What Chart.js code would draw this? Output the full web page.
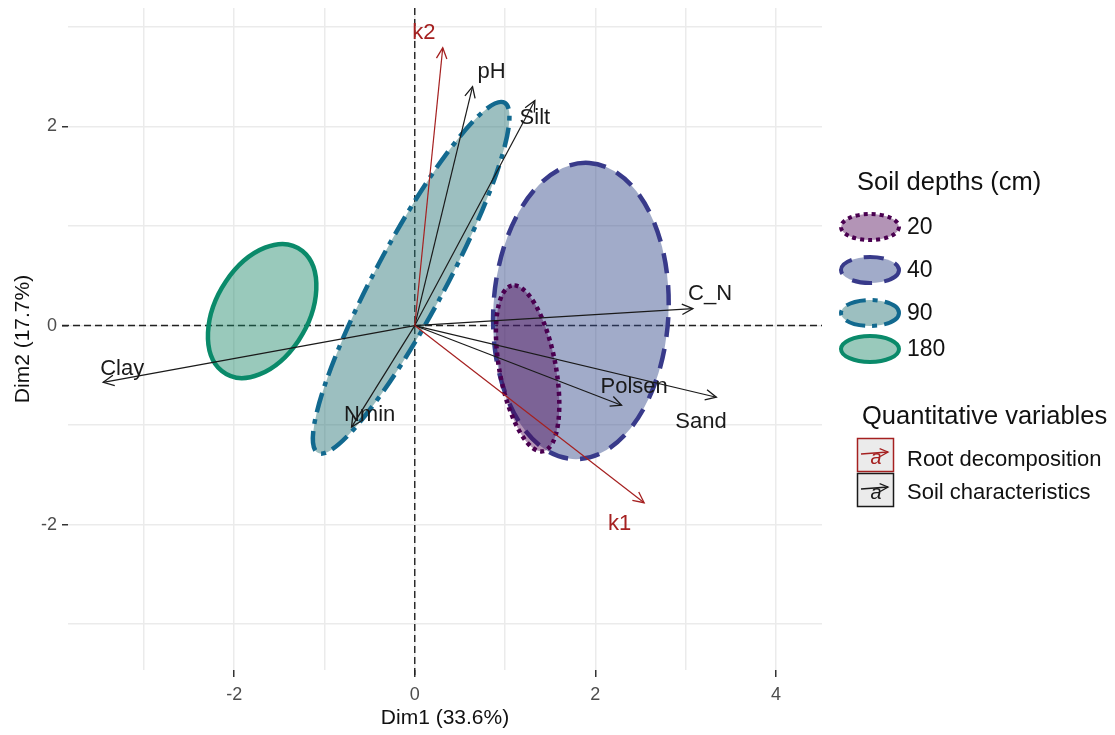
<!DOCTYPE html>
<html>
<head>
<meta charset="utf-8">
<script src="https://cdn.jsdelivr.net/npm/chart.js@4.4.1/dist/chart.umd.min.js"></script>
<style>
  html, body { margin: 0; padding: 0; background: #fff; }
  #wrap { width: 1115px; height: 735px; }
</style>
</head>
<body>
<div id="wrap"><canvas id="pca" width="1115" height="735"></canvas></div>
<script>
// ─── Data ───────────────────────────────────────────────────

const xTitle = 'Dim1 (33.6%)';
const yTitle = 'Dim2 (17.7%)';

// grid lines (major + minor) and the labelled ticks
const xGrid = [-3, -2, -1, 0, 1, 2, 3, 4];
const yGrid = [-3, -2, -1, 0, 1, 2, 3];
const xLabelled = [-2, 0, 2, 4];
const yLabelled = [-2, 0, 2];

// quantitative variables (arrow tips, Dim1 / Dim2)
const varNames = ['k1', 'k2', 'pH', 'Silt', 'C_N', 'Sand', 'Polsen', 'Clay', 'Nmin'];
const varGroup = ['root', 'root', 'soil', 'soil', 'soil', 'soil', 'soil', 'soil', 'soil'];
const varX = [2.54, 0.31, 0.64, 1.33, 3.08, 3.34, 2.29, -3.45, -0.70];
const varY = [-1.78, 2.79, 2.40, 2.26, 0.17, -0.72, -0.80, -0.57, -1.02];
// where each name sits (repelled label anchor)
const labelX = [2.27, 0.10, 0.85, 1.33, 3.27, 3.17, 2.43, -3.24, -0.50];
const labelY = [-1.99, 2.94, 2.55, 2.09, 0.32, -0.97, -0.62, -0.44, -0.90];

// confidence ellipses per soil depth
const depthNames = ['20', '40', '90', '180'];
const ellCx = [1.25, 1.84, -0.04, -1.69];
const ellCy = [-0.43, 0.146, 0.48, 0.146];
const ellA = [0.85, 1.49, 2.04, 0.75];      // semi-major axis
const ellB = [0.31, 0.97, 0.38, 0.50];      // semi-minor axis
const ellAngle = [102, 86.4, 59.4, 53.5];   // degrees

const legendTitles = ['Soil depths (cm)', 'Quantitative variables'];
const groupNames = ['Root decomposition', 'Soil characteristics'];

// ─── Styles ─────────────────────────────────────────────────

const FONT = '"Liberation Sans", Arial, Helvetica, sans-serif';
const groupColor = { root: '#a52020', soil: '#1a1a1a' };
const ellStroke = ['#4a0050', '#383a8a', '#12698f', '#0a8a6a'];
const ellFill = ['rgba(74,0,80,0.42)', 'rgba(51,72,138,0.46)', 'rgba(35,113,115,0.45)', 'rgba(23,132,100,0.44)'];
const ellDash = [[4, 4], [20, 12], [20, 7, 5, 7], []];
const ellOrder = [1, 0, 2, 3];

// ─── Plugins ────────────────────────────────────────────────

function ellipsePath(ctx, xs, ys, cx, cy, a, b, deg) {
  const kx = xs.getPixelForValue(1) - xs.getPixelForValue(0);
  const ky = ys.getPixelForValue(0) - ys.getPixelForValue(1);
  ctx.save();
  ctx.translate(xs.getPixelForValue(cx), ys.getPixelForValue(cy));
  ctx.scale(kx, -ky);
  ctx.rotate(deg * Math.PI / 180);
  ctx.beginPath();
  ctx.ellipse(0, 0, a, b, 0, 0, Math.PI * 2);
  ctx.restore();
}

function drawHead(ctx, x0, y0, x1, y1, len, color) {
  const ang = Math.atan2(y1 - y0, x1 - x0);
  ctx.save();
  ctx.strokeStyle = color;
  ctx.lineWidth = 1.3;
  ctx.beginPath();
  ctx.moveTo(x1 - len * Math.cos(ang - 0.45), y1 - len * Math.sin(ang - 0.45));
  ctx.lineTo(x1, y1);
  ctx.lineTo(x1 - len * Math.cos(ang + 0.45), y1 - len * Math.sin(ang + 0.45));
  ctx.stroke();
  ctx.restore();
}

const biplotPlugin = {
  id: 'biplot',
  beforeDatasetsDraw(chart) {
    const { ctx, chartArea, scales: { x, y } } = chart;
    const x0 = x.getPixelForValue(0), y0 = y.getPixelForValue(0);

    // dashed zero lines
    ctx.save();
    ctx.strokeStyle = '#222';
    ctx.lineWidth = 1.4;
    ctx.setLineDash([7, 4]);
    ctx.beginPath();
    ctx.moveTo(chartArea.left - 6, y0);
    ctx.lineTo(chartArea.right, y0);
    ctx.moveTo(x0, chartArea.top);
    ctx.lineTo(x0, chartArea.bottom + 7);
    ctx.stroke();
    ctx.restore();

    // ellipses
    ellOrder.forEach(i => {
      ellipsePath(ctx, x, y, ellCx[i], ellCy[i], ellA[i], ellB[i], ellAngle[i]);
      ctx.save();
      ctx.fillStyle = ellFill[i];
      ctx.fill();
      ctx.strokeStyle = ellStroke[i];
      ctx.lineWidth = 4.5;
      ctx.setLineDash(ellDash[i]);
      ctx.stroke();
      ctx.restore();
    });
  },
  afterDatasetsDraw(chart) {
    const { ctx, scales: { x, y } } = chart;
    varNames.forEach((name, i) => {
      const meta = chart.getDatasetMeta(i);
      const p0 = meta.data[0], p1 = meta.data[1];
      const color = groupColor[varGroup[i]];
      drawHead(ctx, p0.x, p0.y, p1.x, p1.y, 12, color);
      ctx.save();
      ctx.fillStyle = color;
      ctx.font = `22px ${FONT}`;
      ctx.textAlign = 'center';
      ctx.textBaseline = 'middle';
      ctx.fillText(name, x.getPixelForValue(labelX[i]), y.getPixelForValue(labelY[i]));
      ctx.restore();
    });
  },
  afterDraw(chart) {
    const { ctx } = chart;
    ctx.save();
    ctx.fillStyle = '#111';
    ctx.textBaseline = 'middle';
    ctx.textAlign = 'left';

    // soil depth legend
    ctx.font = `25.5px ${FONT}`;
    ctx.fillText(legendTitles[0], 857, 183);
    const keyY = [227, 270, 313, 349];
    depthNames.forEach((d, i) => {
      ctx.beginPath();
      ctx.ellipse(870, keyY[i], 29, 13, 0, 0, Math.PI * 2);
      ctx.fillStyle = ellFill[i];
      ctx.fill();
      ctx.strokeStyle = ellStroke[i];
      ctx.lineWidth = 4;
      ctx.setLineDash(ellDash[i]);
      ctx.stroke();
      ctx.setLineDash([]);
      ctx.fillStyle = '#111';
      ctx.font = `23px ${FONT}`;
      ctx.fillText(d, 907, keyY[i] + 1);
    });

    // variable group legend
    ctx.font = `25.5px ${FONT}`;
    ctx.fillText(legendTitles[1], 862, 417);
    const boxY = [438, 473];
    ['root', 'soil'].forEach((g, i) => {
      const bx = 857, by = boxY[i], col = groupColor[g];
      ctx.fillStyle = '#ebebeb';
      ctx.fillRect(bx, by, 37, 34);
      ctx.strokeStyle = col;
      ctx.lineWidth = 1.5;
      ctx.strokeRect(bx + 0.5, by + 0.5, 36, 33);
      ctx.fillStyle = col;
      ctx.font = `italic 20px ${FONT}`;
      ctx.textAlign = 'center';
      ctx.fillText('a', bx + 19, by + 20);
      ctx.strokeStyle = col;
      ctx.lineWidth = 1.3;
      ctx.beginPath();
      ctx.moveTo(bx + 4, by + 16);
      ctx.lineTo(bx + 31, by + 14);
      ctx.stroke();
      drawHead(ctx, bx + 4, by + 16, bx + 31, by + 14, 9, col);
      ctx.textAlign = 'left';
      ctx.fillStyle = '#111';
      ctx.font = `22px ${FONT}`;
      ctx.fillText(groupNames[i], 907, by + 21 + (i ? -1 : 1));
    });
    ctx.restore();
  },
};

// ─── Chart ──────────────────────────────────────────────────

const tickMark = labelled => c =>
  (c.tick && labelled.includes(c.tick.value)) ? '#333' : 'rgba(0,0,0,0)';

new Chart(document.getElementById('pca'), {
  type: 'scatter',
  data: {
    datasets: varNames.map((name, i) => ({
      label: name,
      data: [{ x: 0, y: 0 }, { x: varX[i], y: varY[i] }],
      showLine: true,
      borderColor: groupColor[varGroup[i]],
      borderWidth: 1.2,
      pointRadius: 0,
      pointHoverRadius: 0,
      fill: false,
    })),
  },
  options: {
    responsive: false,
    animation: false,
    devicePixelRatio: 1,
    layout: { padding: { left: 0, top: 8, right: 293, bottom: 0 } },
    plugins: { legend: { display: false }, tooltip: { enabled: false } },
    scales: {
      x: {
        type: 'linear',
        min: -3.84,
        max: 4.51,
        afterBuildTicks: s => { s.ticks = xGrid.map(v => ({ value: v })); },
        afterFit: s => { s.height = 65; s.paddingLeft = 0; s.paddingRight = 0; },
        border: { display: false },
        grid: { color: '#ebebeb', lineWidth: 1.5, tickLength: 7, tickWidth: 1.5, tickColor: tickMark(xLabelled) },
        ticks: {
          autoSkip: false, maxRotation: 0, padding: 7, color: '#4d4d4d',
          font: { family: FONT, size: 18 },
          callback: v => xLabelled.includes(v) ? String(v) : '',
        },
        title: { display: true, text: xTitle, color: '#111', font: { family: FONT, size: 21 }, padding: { top: 0, bottom: 4 } },
      },
      y: {
        type: 'linear',
        min: -3.46,
        max: 3.19,
        afterBuildTicks: s => { s.ticks = yGrid.map(v => ({ value: v })); },
        afterFit: s => { s.width = 68; s.paddingTop = 0; s.paddingBottom = 0; },
        border: { display: false },
        grid: { color: '#ebebeb', lineWidth: 1.5, tickLength: 6, tickWidth: 1.5, tickColor: tickMark(yLabelled) },
        ticks: {
          autoSkip: false, padding: 5, color: '#4d4d4d',
          font: { family: FONT, size: 18 },
          callback: v => yLabelled.includes(v) ? String(v) : '',
        },
        title: { display: true, text: yTitle, color: '#111', font: { family: FONT, size: 21 }, padding: { top: 11, bottom: 0 } },
      },
    },
  },
  plugins: [biplotPlugin],
});
</script>
</body>
</html>
